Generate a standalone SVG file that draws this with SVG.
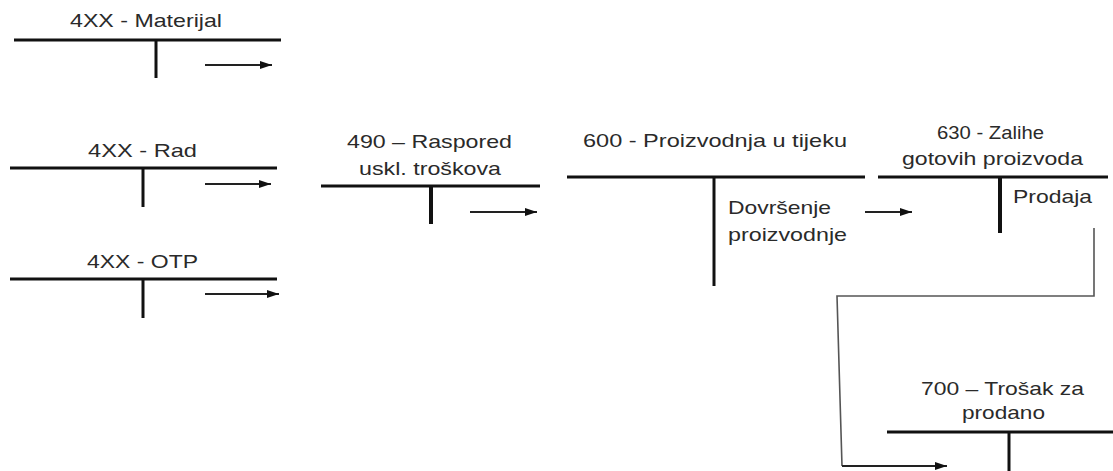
<svg xmlns="http://www.w3.org/2000/svg" width="1113" height="471" viewBox="0 0 1113 471">
<style>
text{font-family:"Liberation Sans",Arial,sans-serif;font-size:19px;fill:#2a2a2a}
.t{stroke:#111;stroke-width:3;fill:none}
.v{stroke:#111;stroke-width:3;fill:none}
.a{stroke:#222;stroke-width:2;fill:none;marker-end:url(#ah)}
.c{stroke:#555;stroke-width:1.6;fill:none}
</style>
<defs>
<marker id="ah" markerUnits="userSpaceOnUse" markerWidth="12" markerHeight="10" refX="12" refY="5" orient="auto">
<path d="M0,1 L12,5 L0,9 Z" fill="#111"/>
</marker>
</defs>
<rect width="1113" height="471" fill="#fff"/>
<g id="n-materijal">
<text x="70" y="27" textLength="152" lengthAdjust="spacingAndGlyphs">4XX - Materijal</text>
<line class="t" x1="14" y1="40" x2="281" y2="40"/>
<line class="v" x1="156" y1="40" x2="156" y2="78"/>
</g>
<g id="n-rad">
<text x="88" y="157" textLength="109" lengthAdjust="spacingAndGlyphs">4XX - Rad</text>
<line class="t" x1="10" y1="168" x2="277" y2="168"/>
<line class="v" x1="143" y1="168" x2="143" y2="207"/>
</g>
<g id="n-otp">
<text x="87" y="268" textLength="111" lengthAdjust="spacingAndGlyphs">4XX - OTP</text>
<line class="t" x1="10" y1="279" x2="277" y2="279"/>
<line class="v" x1="143" y1="279" x2="143" y2="318"/>
</g>
<g id="n-490">
<text x="347" y="148" textLength="165" lengthAdjust="spacingAndGlyphs">490 – Raspored</text>
<text x="359" y="175" textLength="142" lengthAdjust="spacingAndGlyphs">uskl. troškova</text>
<line class="t" x1="321" y1="186" x2="540" y2="186"/>
<line class="v" x1="431" y1="186" x2="431" y2="224" style="stroke-width:4"/>
</g>
<g id="n-600">
<text x="583" y="147" textLength="264" lengthAdjust="spacingAndGlyphs">600 - Proizvodnja u tijeku</text>
<line class="t" x1="567" y1="177" x2="865" y2="177"/>
<line class="v" x1="714" y1="177" x2="714" y2="286"/>
<text x="728" y="214" textLength="103" lengthAdjust="spacingAndGlyphs">Dovršenje</text>
<text x="728" y="241" textLength="119" lengthAdjust="spacingAndGlyphs">proizvodnje</text>
</g>
<g id="n-630">
<text x="937" y="139" textLength="107" lengthAdjust="spacingAndGlyphs">630 - Zalihe</text>
<text x="902" y="165" textLength="181" lengthAdjust="spacingAndGlyphs">gotovih proizvoda</text>
<line class="t" x1="878" y1="177" x2="1108" y2="177"/>
<line class="v" x1="1000" y1="177" x2="1000" y2="233" style="stroke-width:4"/>
<text x="1013" y="203" textLength="79" lengthAdjust="spacingAndGlyphs">Prodaja</text>
</g>
<g id="n-700">
<text x="921" y="395" textLength="163" lengthAdjust="spacingAndGlyphs">700 – Trošak za</text>
<text x="962" y="419" textLength="83" lengthAdjust="spacingAndGlyphs">prodano</text>
<line class="t" x1="887" y1="432" x2="1113" y2="432"/>
<line class="v" x1="1009" y1="432" x2="1009" y2="471"/>
</g>
<g id="connectors">
<line class="a" x1="205" y1="65" x2="272" y2="65"/>
<line class="a" x1="205" y1="184" x2="271" y2="184"/>
<line class="a" x1="205" y1="294" x2="279" y2="294"/>
<line class="a" x1="470" y1="212" x2="537" y2="212"/>
<line class="a" x1="865" y1="212" x2="912" y2="212"/>
<polyline class="c" points="1094,228 1094,296 837,296 842,466"/>
<line class="a" x1="842" y1="466" x2="947" y2="466" style="stroke-width:1.8"/>
</g>
</svg>
